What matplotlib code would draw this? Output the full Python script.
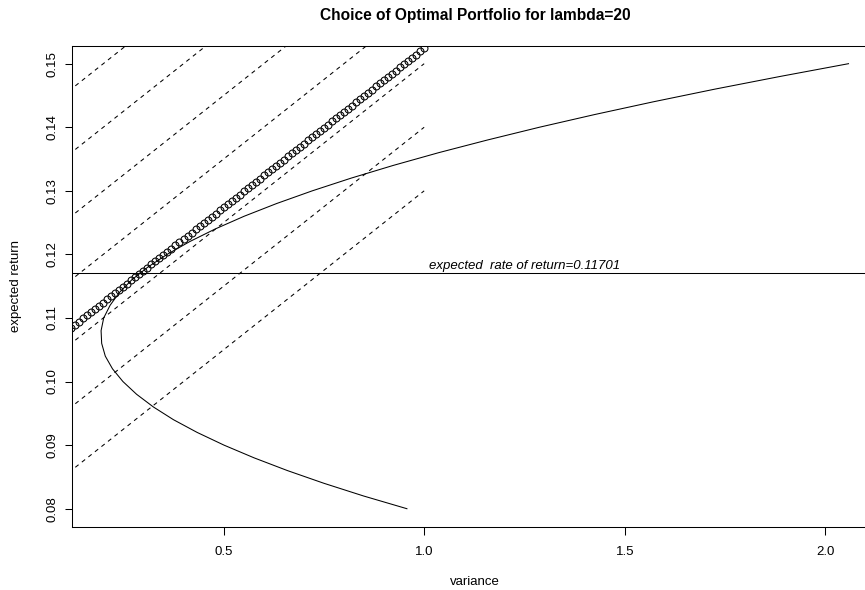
import matplotlib.pyplot as plt

plt.rcParams['font.family'] = ['Liberation Sans', 'DejaVu Sans']

lam = 20
opt_return = 0.11701

# efficient frontier (return, variance)
front_ret = [0.080, 0.082, 0.084, 0.086, 0.088, 0.090, 0.092, 0.094, 0.096,
             0.098, 0.100, 0.102, 0.104, 0.106, 0.108, 0.110, 0.112, 0.114,
             0.116, 0.118, 0.120, 0.122, 0.124, 0.126, 0.128, 0.130, 0.132,
             0.134, 0.136, 0.138, 0.140, 0.142, 0.144, 0.146, 0.148, 0.150]
front_var = [0.957, 0.849, 0.750, 0.659, 0.576, 0.501, 0.434, 0.375, 0.325,
             0.283, 0.249, 0.223, 0.205, 0.196, 0.1945, 0.201, 0.217, 0.240,
             0.271, 0.311, 0.359, 0.415, 0.479, 0.551, 0.632, 0.721, 0.818,
             0.923, 1.036, 1.158, 1.287, 1.425, 1.571, 1.725, 1.888, 2.058]

# dashed lines: return = c + variance/lambda, variance from 0 to 1
line_icpt = [0.08, 0.09, 0.10, 0.11, 0.12, 0.13, 0.14]
line_var = [0.0, 1.0]

# circles along the optimal line
opt_var = [0.00, 0.01, 0.02, 0.03, 0.04, 0.05, 0.06, 0.07, 0.08, 0.09,
           0.10, 0.11, 0.12, 0.13, 0.14, 0.15, 0.16, 0.17, 0.18, 0.19,
           0.20, 0.21, 0.22, 0.23, 0.24, 0.25, 0.26, 0.27, 0.28, 0.29,
           0.30, 0.31, 0.32, 0.33, 0.34, 0.35, 0.36, 0.37, 0.38, 0.39,
           0.40, 0.41, 0.42, 0.43, 0.44, 0.45, 0.46, 0.47, 0.48, 0.49,
           0.50, 0.51, 0.52, 0.53, 0.54, 0.55, 0.56, 0.57, 0.58, 0.59,
           0.60, 0.61, 0.62, 0.63, 0.64, 0.65, 0.66, 0.67, 0.68, 0.69,
           0.70, 0.71, 0.72, 0.73, 0.74, 0.75, 0.76, 0.77, 0.78, 0.79,
           0.80, 0.81, 0.82, 0.83, 0.84, 0.85, 0.86, 0.87, 0.88, 0.89,
           0.90, 0.91, 0.92, 0.93, 0.94, 0.95, 0.96, 0.97, 0.98, 0.99,
           1.00]
opt_ret = [0.10242, 0.10292, 0.10342, 0.10392, 0.10442, 0.10492, 0.10542, 0.10592, 0.10642, 0.10692,
           0.10742, 0.10792, 0.10842, 0.10892, 0.10942, 0.10992, 0.11042, 0.11092, 0.11142, 0.11192,
           0.11242, 0.11292, 0.11342, 0.11392, 0.11442, 0.11492, 0.11542, 0.11592, 0.11642, 0.11692,
           0.11742, 0.11792, 0.11842, 0.11892, 0.11942, 0.11992, 0.12042, 0.12092, 0.12142, 0.12192,
           0.12242, 0.12292, 0.12342, 0.12392, 0.12442, 0.12492, 0.12542, 0.12592, 0.12642, 0.12692,
           0.12742, 0.12792, 0.12842, 0.12892, 0.12942, 0.12992, 0.13042, 0.13092, 0.13142, 0.13192,
           0.13242, 0.13292, 0.13342, 0.13392, 0.13442, 0.13492, 0.13542, 0.13592, 0.13642, 0.13692,
           0.13742, 0.13792, 0.13842, 0.13892, 0.13942, 0.13992, 0.14042, 0.14092, 0.14142, 0.14192,
           0.14242, 0.14292, 0.14342, 0.14392, 0.14442, 0.14492, 0.14542, 0.14592, 0.14642, 0.14692,
           0.14742, 0.14792, 0.14842, 0.14892, 0.14942, 0.14992, 0.15042, 0.15092, 0.15142, 0.15192,
           0.15242]

xticks = [0.5, 1.0, 1.5, 2.0]
xtick_labels = ['0.5', '1.0', '1.5', '2.0']
yticks = [0.08, 0.09, 0.10, 0.11, 0.12, 0.13, 0.14, 0.15]
ytick_labels = ['0.08', '0.09', '0.10', '0.11', '0.12', '0.13', '0.14', '0.15']

fs = 9.5

fig = plt.figure(figsize=(8.65, 5.9), dpi=100)
# plot box runs past the right edge, like the cropped original
ax = fig.add_axes([72 / 865, 1 - 526.7 / 590, 806.2 / 865, 481 / 590])

ax.plot(front_var, front_ret, color='black', lw=0.75)

for c in line_icpt:
    ax.plot(line_var, [c + v / lam for v in line_var], color='black',
            lw=0.75, linestyle=(0, (4, 4)))

ax.plot(opt_var, opt_ret, linestyle='none', marker='o', markersize=5,
        mfc='none', mec='black', mew=0.75)

ax.axhline(opt_return, color='black', lw=0.75)
ax.text(1.25, 0.1182, 'expected  rate of return=0.11701', style='italic',
        ha='center', va='center', fontsize=fs)

ax.set_xlim(0.122, 2.132)
ax.set_ylim(0.07717, 0.15283)
ax.set_xticks(xticks)
ax.set_xticklabels(xtick_labels)
ax.set_yticks(yticks)
ax.set_yticklabels(ytick_labels)
ax.tick_params(axis='both', direction='out', length=5.4, width=0.75,
               labelsize=fs, colors='black')
ax.tick_params(axis='x', pad=8.8)
ax.tick_params(axis='y', pad=4.3)
plt.setp(ax.get_yticklabels(), rotation=90, va='center')

for s in ax.spines.values():
    s.set_linewidth(0.75)
    s.set_color('black')

ax.set_xlabel('variance', fontsize=fs)
ax.xaxis.set_label_coords(0.5, -0.115)
ax.xaxis.label.set_va('center')
ax.set_ylabel('expected return', fontsize=fs)
ax.yaxis.set_label_coords(-0.0695, 0.5)
ax.yaxis.label.set_va('center')

ax.set_title('Choice of Optimal Portfolio for lambda=20', fontsize=11.2,
             fontweight='bold', pad=18.8)

fig.savefig('out.png', dpi=100)
